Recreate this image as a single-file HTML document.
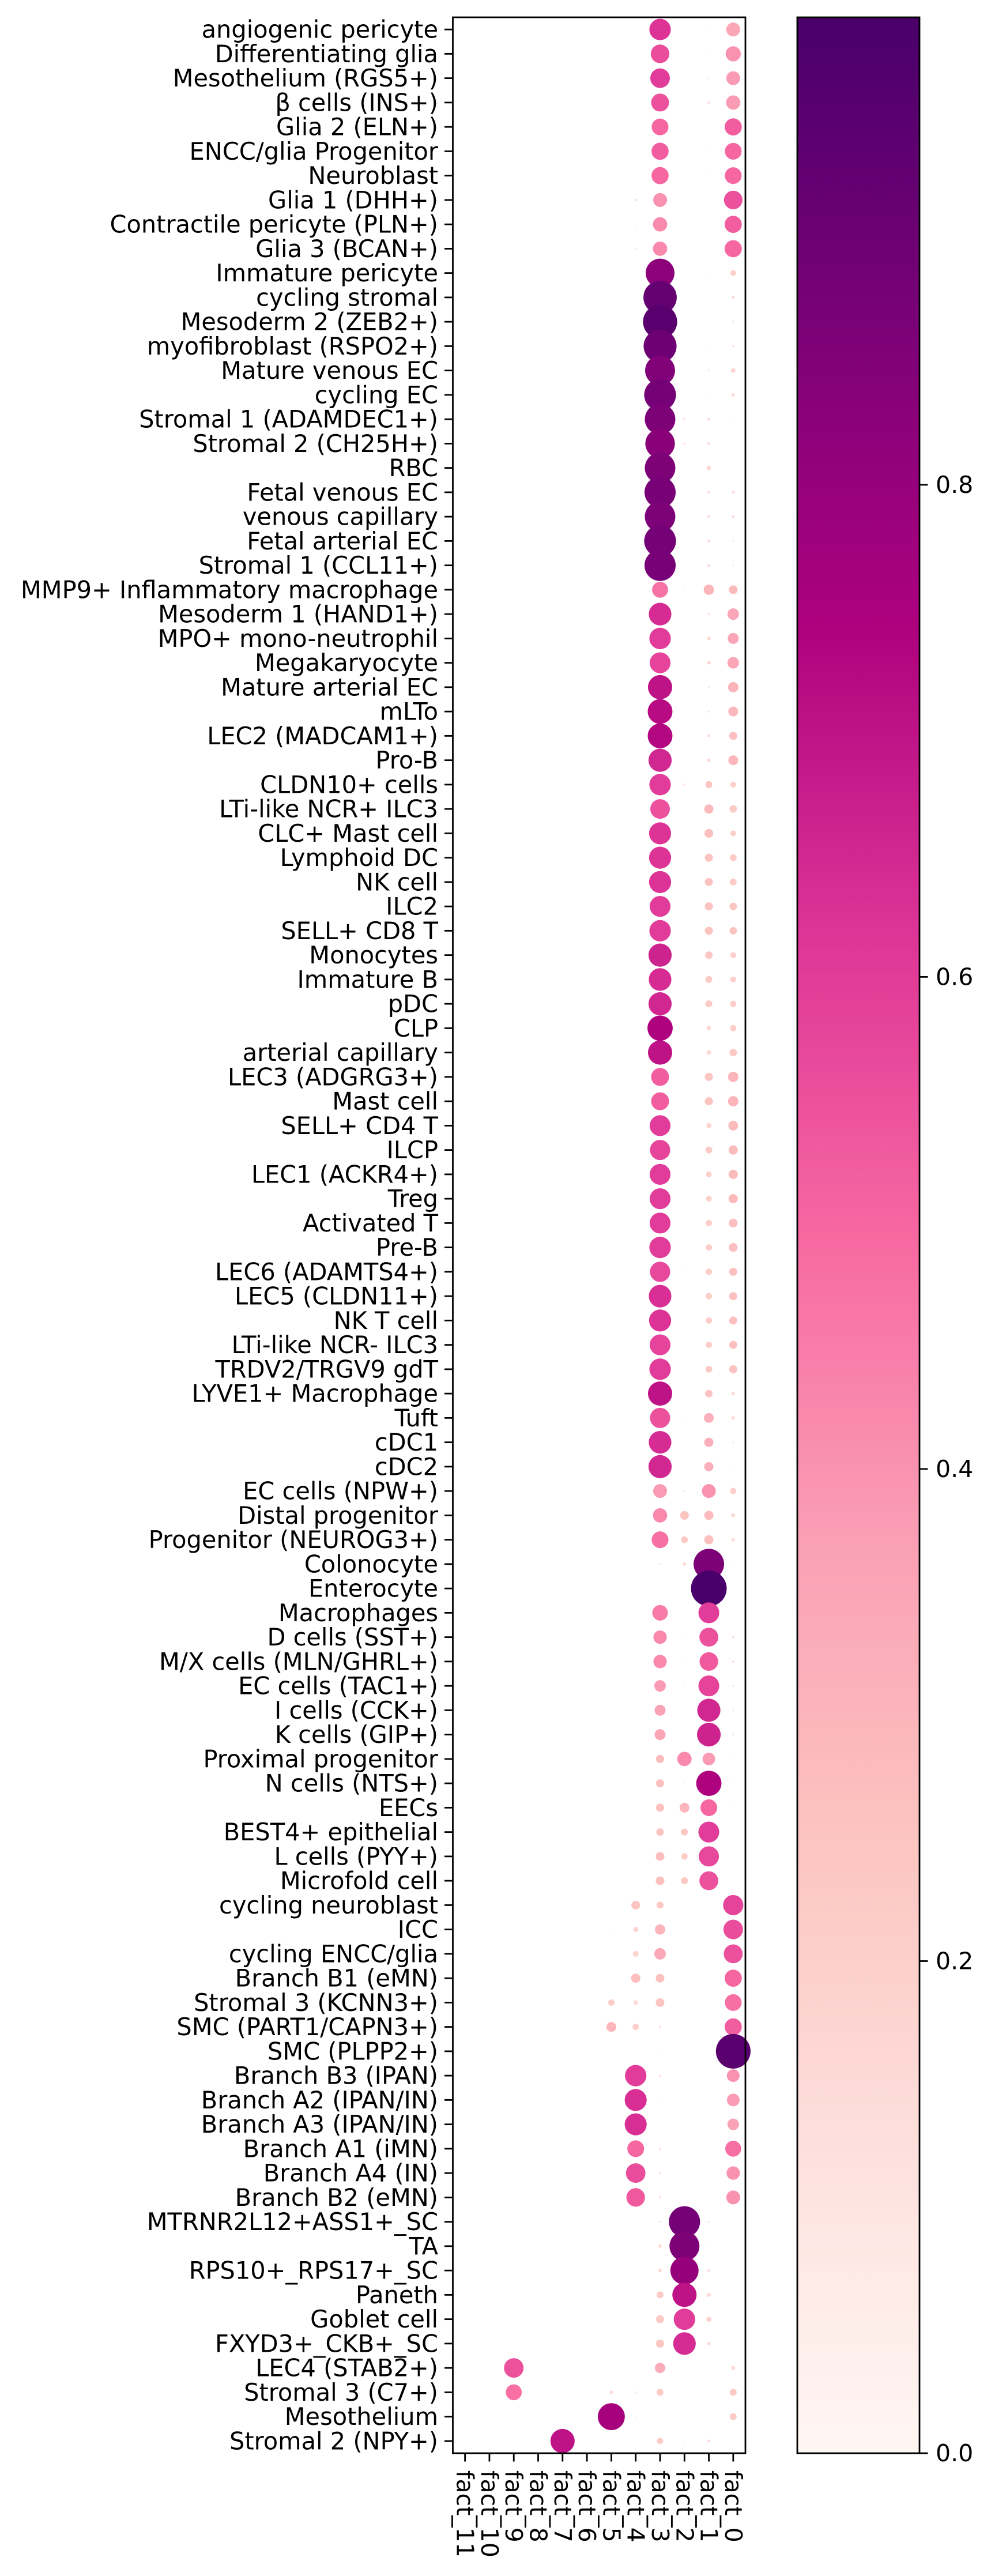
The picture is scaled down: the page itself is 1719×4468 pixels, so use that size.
<!DOCTYPE html>
<html><head><meta charset="utf-8"><title>Dot plot</title>
<style>html,body{margin:0;padding:0;background:#fff;}svg{display:block;}
text{font-family:"DejaVu Sans","Liberation Sans",sans-serif;fill:#000;}</style></head>
<body>
<svg id="chart" xmlns="http://www.w3.org/2000/svg" width="1719" height="4468" viewBox="0 0 1719 4468">
<defs><linearGradient id="rdpu" x1="0" y1="1" x2="0" y2="0">
<stop offset="0" stop-color="#fff7f3"/><stop offset="0.125" stop-color="#fde0dd"/><stop offset="0.25" stop-color="#fcc5c0"/><stop offset="0.375" stop-color="#fa9fb5"/><stop offset="0.5" stop-color="#f768a1"/><stop offset="0.625" stop-color="#dd3497"/><stop offset="0.75" stop-color="#ae017e"/><stop offset="0.875" stop-color="#7a0177"/><stop offset="1" stop-color="#49006a"/></linearGradient></defs>
<g id="plot"></g>
</svg>
<script>
const cellTypes = ["angiogenic pericyte","Differentiating glia","Mesothelium (RGS5+)","β cells (INS+)","Glia 2 (ELN+)","ENCC/glia Progenitor","Neuroblast","Glia 1 (DHH+)","Contractile pericyte (PLN+)","Glia 3 (BCAN+)","Immature pericyte","cycling stromal","Mesoderm 2 (ZEB2+)","myofibroblast (RSPO2+)","Mature venous EC","cycling EC","Stromal 1 (ADAMDEC1+)","Stromal 2 (CH25H+)","RBC","Fetal venous EC","venous capillary","Fetal arterial EC","Stromal 1 (CCL11+)","MMP9+ Inflammatory macrophage","Mesoderm 1 (HAND1+)","MPO+ mono-neutrophil","Megakaryocyte","Mature arterial EC","mLTo","LEC2 (MADCAM1+)","Pro-B","CLDN10+ cells","LTi-like NCR+ ILC3","CLC+ Mast cell","Lymphoid DC","NK cell","ILC2","SELL+ CD8 T","Monocytes","Immature B","pDC","CLP","arterial capillary","LEC3 (ADGRG3+)","Mast cell","SELL+ CD4 T","ILCP","LEC1 (ACKR4+)","Treg","Activated T","Pre-B","LEC6 (ADAMTS4+)","LEC5 (CLDN11+)","NK T cell","LTi-like NCR- ILC3","TRDV2/TRGV9 gdT","LYVE1+ Macrophage","Tuft","cDC1","cDC2","EC cells (NPW+)","Distal progenitor","Progenitor (NEUROG3+)","Colonocyte","Enterocyte","Macrophages","D cells (SST+)","M/X cells (MLN/GHRL+)","EC cells (TAC1+)","I cells (CCK+)","K cells (GIP+)","Proximal progenitor","N cells (NTS+)","EECs","BEST4+ epithelial","L cells (PYY+)","Microfold cell","cycling neuroblast","ICC","cycling ENCC/glia","Branch B1 (eMN)","Stromal 3 (KCNN3+)","SMC (PART1/CAPN3+)","SMC (PLPP2+)","Branch B3 (IPAN)","Branch A2 (IPAN/IN)","Branch A3 (IPAN/IN)","Branch A1 (iMN)","Branch A4 (IN)","Branch B2 (eMN)","MTRNR2L12+ASS1+_SC","TA","RPS10+_RPS17+_SC","Paneth","Goblet cell","FXYD3+_CKB+_SC","LEC4 (STAB2+)","Stromal 3 (C7+)","Mesothelium","Stromal 2 (NPY+)"];
const factors = ["fact_11","fact_10","fact_9","fact_8","fact_7","fact_6","fact_5","fact_4","fact_3","fact_2","fact_1","fact_0"];
const colorTicks = [0.0,0.2,0.4,0.6,0.8];
const colorMax = 0.99;
// [row (1-based), factor number, percent of cells, mean value]
const dots = [
[1,3,36,.62],[1,1,.1,.1],[1,0,15,.35],[2,3,27,.56],[2,1,.1,.1],[2,0,18,.4],[3,3,30,.6],[3,1,.2,.1],[3,0,15,.38],
[4,3,25,.55],[4,1,.4,.15],[4,0,16,.38],[5,3,22,.5],[5,0,23,.52],[6,3,23,.52],[6,1,.1,.1],[6,0,22,.5],
[7,3,23,.5],[7,1,.1,.1],[7,0,22,.5],[8,4,.4,.15],[8,3,15,.4],[8,0,27,.55],[9,4,.1,.1],[9,3,16,.42],[9,0,23,.52],
[10,4,.2,.1],[10,3,16,.42],[10,0,23,.5],[11,3,65,.82],[11,1,.1,.1],[11,0,2.6,.2],[12,3,87,.92],[12,0,.65,.15],
[13,3,91,.95],[13,0,.23,.12],[14,3,85,.9],[14,1,.1,.1],[14,0,.4,.13],[15,3,70,.85],[15,1,.23,.12],[15,0,1.7,.18],
[16,3,79,.88],[16,1,.1,.1],[16,0,.94,.15],[17,3,73,.86],[17,2,.4,.13],[17,1,.65,.15],[17,0,.1,.1],
[18,3,68,.83],[18,2,.4,.13],[18,1,.65,.15],[19,3,73,.86],[19,1,1.7,.16],[20,3,76,.87],[20,1,.65,.15],[20,0,.65,.15],
[21,3,73,.86],[21,1,.65,.15],[21,0,.65,.15],[22,3,79,.88],[22,1,.65,.15],[22,0,.23,.12],[23,3,76,.87],[23,1,.65,.15],[23,0,.23,.12],
[24,3,20,.47],[24,2,.1,.1],[24,1,8.4,.3],[24,0,5.9,.28],[25,3,40,.64],[25,1,.4,.13],[25,0,10.4,.35],
[26,3,36,.6],[26,1,.94,.18],[26,0,9.4,.35],[27,3,34,.58],[27,1,.94,.18],[27,0,10.4,.35],[28,3,46,.7],[28,1,.23,.12],[28,0,8.4,.3],
[29,3,48,.72],[29,1,.23,.12],[29,0,7.5,.3],[30,3,48,.73],[30,1,.65,.15],[30,0,5.1,.27],[31,3,42,.65],[31,1,.94,.16],[31,0,7.5,.3],
[32,3,36,.6],[32,2,.4,.13],[32,1,3.7,.25],[32,0,2.6,.2],[33,3,30,.55],[33,1,6.7,.28],[33,0,4.4,.22],
[34,3,38,.62],[34,1,5.9,.27],[34,0,2.6,.2],[35,3,38,.62],[35,1,5.1,.25],[35,0,3.7,.22],[36,3,38,.62],[36,1,5.1,.25],[36,0,3.7,.22],
[37,3,34,.6],[37,1,5.1,.25],[37,0,4.4,.24],[38,3,36,.6],[38,1,5.1,.25],[38,0,4.4,.25],[39,3,42,.66],[39,1,4.4,.24],[39,0,2.6,.2],
[40,3,40,.64],[40,1,3.7,.22],[40,0,2.6,.2],[41,3,42,.65],[41,1,3.7,.22],[41,0,3.1,.21],[42,3,50,.74],[42,1,1.7,.16],[42,0,3.1,.21],
[43,3,46,.7],[43,1,1.7,.16],[43,0,4.4,.23],[44,3,25,.52],[44,1,5.1,.25],[44,0,8.4,.3],[45,3,25,.52],[45,1,5.1,.25],[45,0,8.4,.3],
[46,3,34,.6],[46,1,2.1,.18],[46,0,7.5,.28],[47,3,32,.58],[47,1,3.7,.22],[47,0,6.7,.28],[48,3,34,.6],[48,1,2.6,.2],[48,0,6.7,.28],
[49,3,34,.6],[49,1,2.6,.2],[49,0,6.7,.28],[50,3,34,.6],[50,1,3.1,.21],[50,0,5.9,.27],[51,3,36,.6],[51,1,3.1,.21],[51,0,5.9,.27],
[52,3,32,.57],[52,2,.1,.1],[52,1,3.1,.21],[52,0,5.1,.26],[53,3,40,.63],[53,1,3.1,.21],[53,0,5.1,.26],[54,3,38,.62],[54,1,3.1,.21],[54,0,5.1,.26],
[55,3,34,.58],[55,1,3.1,.21],[55,0,5.1,.26],[56,3,36,.6],[56,1,3.7,.22],[56,0,5.1,.25],[57,3,46,.7],[57,1,4.4,.25],[57,0,.94,.15],
[58,3,32,.55],[58,2,.1,.1],[58,1,7.5,.32],[58,0,.94,.15],[59,3,40,.64],[59,1,6.7,.32],[59,0,.23,.12],[60,3,42,.65],[60,1,6.7,.32],[60,0,.1,.1],
[61,3,15,.38],[61,2,.23,.12],[61,1,15,.4],[61,0,3.1,.2],[62,3,16,.42],[62,2,5.9,.25],[62,1,6.7,.28],[62,0,1.3,.15],
[63,3,22,.48],[63,2,3.7,.22],[63,1,6.7,.26],[63,0,.94,.14],[64,3,.23,.12],[64,2,.94,.15],[64,1,73,.86],[64,0,.1,.1],
[65,1,100,.99],[66,3,19,.45],[66,1,34,.6],[67,3,14,.42],[67,2,.1,.1],[67,1,28,.55],[67,0,.4,.13],
[68,3,14,.42],[68,2,.1,.1],[68,1,27,.53],[68,0,.4,.13],[69,3,10.4,.38],[69,2,.1,.1],[69,1,34,.58],[69,0,.23,.12],
[70,3,9.4,.36],[70,1,42,.65],[70,0,.23,.12],[71,3,9.4,.35],[71,1,44,.66],[71,0,.23,.12],
[72,3,5.1,.28],[72,2,16,.42],[72,1,12.6,.38],[72,0,.1,.1],[73,3,5.1,.26],[73,2,.1,.1],[73,1,50,.74],[73,0,.1,.1],
[74,3,5.1,.26],[74,2,7.5,.3],[74,1,22,.5],[74,0,.1,.1],[75,3,4.4,.25],[75,2,3.7,.24],[75,1,34,.6],
[76,3,5.9,.27],[76,2,3.1,.22],[76,1,32,.57],[77,3,5.9,.26],[77,2,3.7,.24],[77,1,28,.55],
[78,4,5.9,.25],[78,3,3.7,.24],[78,0,32,.58],[79,5,.1,.1],[79,4,2.1,.18],[79,3,8.4,.3],[79,0,30,.56],
[80,4,2.6,.18],[80,3,10.4,.34],[80,0,28,.55],[81,4,6.7,.27],[81,3,5.9,.26],[81,0,23,.5],
[82,5,3.1,.22],[82,4,1.7,.16],[82,3,5.9,.25],[82,0,22,.48],[83,5,7.5,.3],[83,4,3.1,.2],[83,3,.4,.13],[83,0,23,.52],
[84,3,.1,.1],[84,0,94,.95],[85,4,36,.6],[85,3,.4,.13],[85,0,12.6,.4],[86,4,38,.63],[86,3,.1,.1],[86,0,12.6,.38],
[87,4,38,.63],[87,0,10.4,.36],[88,4,22,.5],[88,3,.4,.13],[88,0,20,.48],[89,4,30,.56],[89,3,.4,.13],[89,0,14,.4],
[90,4,27,.53],[90,3,.4,.13],[90,0,15,.4],[91,2,76,.88],[91,3,.23,.12],[91,1,.23,.12],[92,2,70,.86],[92,3,.94,.15],[92,1,.1,.1],
[93,2,62,.8],[93,3,.94,.15],[93,1,.65,.14],[94,2,46,.7],[94,3,3.7,.22],[94,1,1.3,.16],[95,2,36,.6],[95,3,5.1,.22],[95,1,2.1,.18],
[96,2,40,.64],[96,3,5.1,.24],[96,1,.94,.15],[97,9,30,.55],[97,3,8.4,.33],[97,0,1.3,.16],
[98,9,20,.48],[98,5,.94,.15],[98,4,.23,.12],[98,3,3.7,.22],[98,0,3.7,.22],[99,5,57,.76],[99,4,.1,.1],[99,0,3.7,.22],
[100,7,46,.7],[100,3,3.1,.22],[100,2,.1,.1],[100,1,.65,.15]
];

const NS = "http://www.w3.org/2000/svg";
const g = document.getElementById("plot");
const AX = {left:785.5, right:1293, top:30, bottom:4255};
const rowH = (AX.bottom - AX.top) / cellTypes.length;
const colW = (AX.right - AX.left) / factors.length;
const CB = {left:1383, right:1595, top:30, bottom:4255};
const RMAX = 31;
function yRow(i){ return AX.top + (i + 0.5) * rowH; }
function xCol(j){ return AX.left + (j + 0.5) * colW; }
function rSize(pct){ return RMAX * Math.sqrt(pct / 100); }
function yCbar(v){ return CB.bottom - (v / colorMax) * (CB.bottom - CB.top); }
const stops = ["#fff7f3","#fde0dd","#fcc5c0","#fa9fb5","#f768a1","#dd3497","#ae017e","#7a0177","#49006a"];
function hex(h){ return [1,3,5].map(i=>parseInt(h.substr(i,2),16)); }
function cmap(v){
  let t = Math.max(0, Math.min(1, v / colorMax)) * (stops.length - 1);
  let i = Math.min(stops.length - 2, Math.floor(t)), f = t - i;
  const a = hex(stops[i]), b = hex(stops[i+1]);
  return "rgb(" + a.map((c,k)=>Math.round(c + (b[k]-c)*f)).join(",") + ")";
}
function el(tag, attrs, parent){
  const e = document.createElementNS(NS, tag);
  for (const k in attrs) e.setAttribute(k, attrs[k]);
  (parent || g).appendChild(e);
  return e;
}

cellTypes.forEach((name, i) => {
  const y = yRow(i);
  const t = el("line", {x1:771, x2:AX.left, y1:y, y2:y, stroke:"#000", "stroke-width":2.8});
  
  
  const lab = el("text", {x:760, y:y, "text-anchor":"end", "dominant-baseline":"central", "font-size":41.5});
  lab.textContent = name;
  
  
});

factors.forEach((name, j) => {
  const x = xCol(j);
  const t = el("line", {x1:x, x2:x, y1:AX.bottom, y2:AX.bottom + 14.5, stroke:"#000", "stroke-width":2.8});
  
  
  const lab = el("text", {x:0, y:0, "text-anchor":"start", "dominant-baseline":"central", "font-size":41, transform:"translate(" + x + "," + (AX.bottom + 30) + ") rotate(90)"});
  lab.textContent = name;
  
  
});

dots.forEach(d => {
  const row = d[0] - 1, col = factors.indexOf("fact_" + d[1]);
  const c = el("circle", {cx:xCol(col), cy:yRow(row), r:rSize(d[2]), fill:cmap(d[3])});
  
  
});

const frame = el("rect", {x:AX.left, y:AX.top, width:AX.right - AX.left, height:AX.bottom - AX.top, fill:"none", stroke:"#000", "stroke-width":2.8});



const cb = el("rect", {x:CB.left, y:CB.top, width:CB.right - CB.left, height:CB.bottom - CB.top, fill:"url(#rdpu)", stroke:"#000", "stroke-width":2.8});


colorTicks.forEach(v => {
  const y = yCbar(v);
  const t = el("line", {x1:CB.right, x2:CB.right + 14.5, y1:y, y2:y, stroke:"#000", "stroke-width":2.8});
  
  
  const lab = el("text", {x:CB.right + 28, y:y, "dominant-baseline":"central", "font-size":41});
  lab.textContent = v.toFixed(1);
  
  
});
</script>
</body></html>
